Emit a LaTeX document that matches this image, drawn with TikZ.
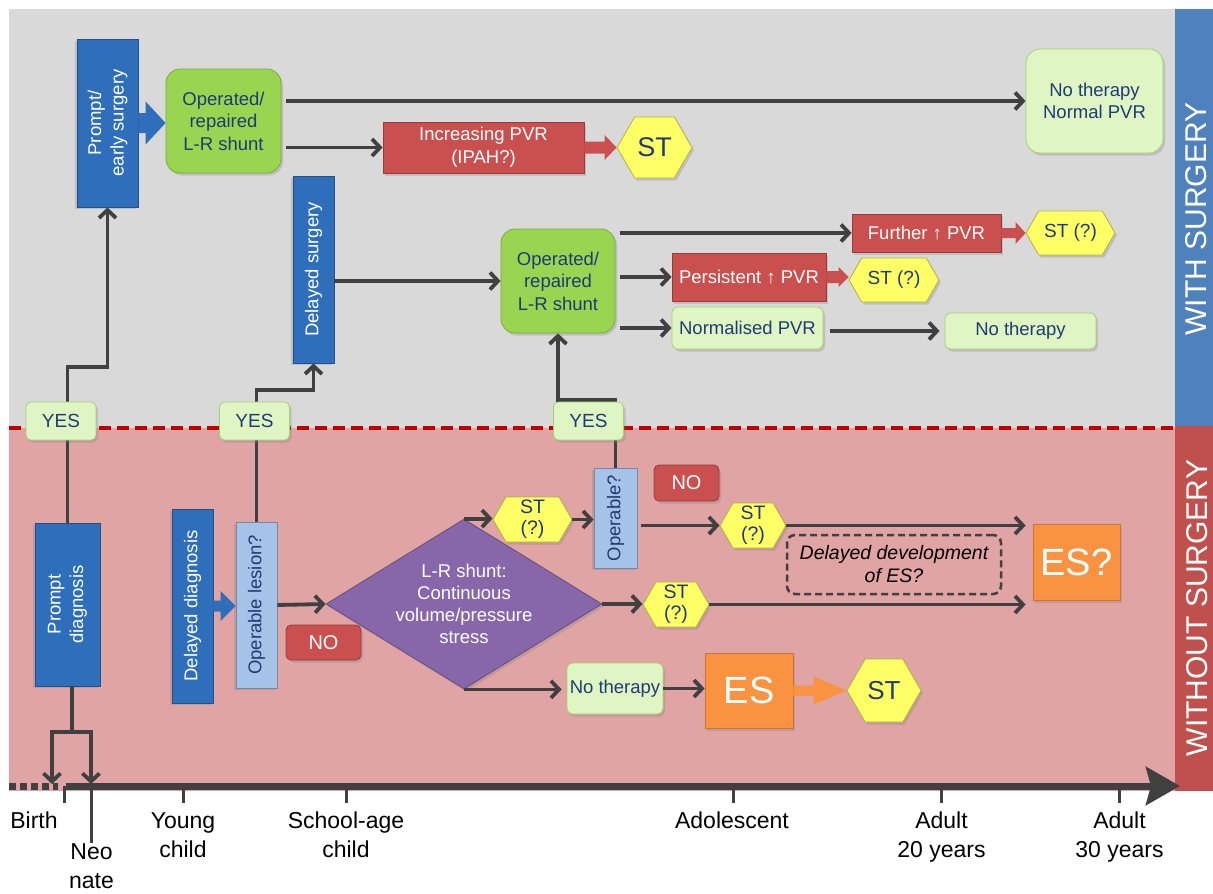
\documentclass[tikz,border=0pt]{standalone}
\usepackage{fontspec}
\setmainfont{Liberation Sans}
\usetikzlibrary{shapes.symbols,shapes.geometric,arrows.meta,calc,shadows}
\definecolor{cBoxBlue}{HTML}{2F6EBA}
\definecolor{cTxtBlue}{HTML}{1F3B73}
\definecolor{cOpGreen}{HTML}{9AD552}
\definecolor{cLtGreen}{HTML}{DFF5C3}
\definecolor{cLtGreenB}{HTML}{A2D46E}
\definecolor{cRedBox}{HTML}{C9504E}
\definecolor{cYellow}{HTML}{FFFF66}
\definecolor{cLtBlue}{HTML}{A5C3E8}
\definecolor{cPurple}{HTML}{8767AA}
\definecolor{cOrange}{HTML}{F99341}
\definecolor{cLine}{HTML}{404040}
\definecolor{cBgGray}{HTML}{D9D9D9}
\definecolor{cBgPink}{HTML}{DFA4A3}
\definecolor{cBandBlue}{HTML}{4F81BD}
\definecolor{cBandRed}{HTML}{C0504D}
\definecolor{cDashRed}{HTML}{C00000}
\newcommand\fsz[2]{\fontsize{#1}{#2}\selectfont}
% horizontal block arrow: #1 start, #2 tip (y taken from #1), #3 shaft half, #4 head half, #5 head length, #6 colour
\newcommand\blkarrow[6]{%
  \fill[#6] ($(#1)+(0,#3)$) -- ($(#2 |- #1)+(-#5,#3)$) -- ($(#2 |- #1)+(-#5,#4)$) -- (#2 |- #1)
    -- ($(#2 |- #1)+(-#5,-#4)$) -- ($(#2 |- #1)+(-#5,-#3)$) -- ($(#1)+(0,-#3)$) -- cycle;}
\tikzset{
  conn/.style={draw=cLine, line width=3.8pt, -{Straight Barb[length=8pt,width=17pt]}},
  plainline/.style={draw=cLine, line width=3.8pt},
  shad/.style={drop shadow={shadow xshift=2pt, shadow yshift=-2.5pt, opacity=.3}},
  rshad/.style={drop shadow={shadow xshift=-2.5pt, shadow yshift=-2pt, opacity=.3}},
  basebox/.style={inner sep=0pt, align=center, font=\fsz{18.5}{22.5}},
  bluebox/.style={basebox, rotate=90, rshad, fill=cBoxBlue, draw=cBoxBlue!75!black, line width=0.8pt, text=white},
  lbluebox/.style={basebox, rotate=90, rshad, fill=cLtBlue, draw=cLtBlue!70!black, line width=0.8pt, text=cTxtBlue},
  opbox/.style={basebox, shad, fill=cOpGreen, draw=cOpGreen!80!black, rounded corners=14pt, text=cTxtBlue, line width=0.8pt},
  ltbox/.style={basebox, shad, fill=cLtGreen, draw=cLtGreenB, rounded corners=6pt, text=cTxtBlue, line width=0.8pt},
  redrect/.style={basebox, shad, fill=cRedBox, draw=cRedBox!75!black, text=white, line width=0.8pt},
  hexa/.style={basebox, shad, signal, signal to=east and west, signal pointer angle=120, fill=cYellow, draw=cYellow!70!black, text=cTxtBlue, line width=0.8pt},
  orbox/.style={basebox, shad, fill=cOrange, draw=cOrange!80!black, text=white, line width=0.8pt, font=\fsz{38}{40}},
  yesbox/.style={ltbox, rounded corners=5pt, font=\fsz{19}{22}, minimum width=70pt, minimum height=38pt},
  nobox/.style={redrect, rounded corners=5pt, font=\fsz{20}{22}},
  axislbl/.style={align=center, anchor=base, font=\fsz{23}{29}, inner sep=0pt},
  bandlbl/.style={rotate=90, text=white, font=\fsz{30}{32}, inner sep=0pt},
  tick/.style={draw=cLine, line width=3pt},
}
\begin{document}
\begin{tikzpicture}[x=1pt,y=-1pt]
\useasboundingbox (0,0) rectangle (1213,894);
% backgrounds
\fill[cBgGray] (9,9) rectangle (1175,428);
\fill[cBgPink] (9,428) rectangle (1175,791);
\fill[cBandBlue] (1175,9) rectangle (1213,426);
\fill[cBandRed] (1175,426) rectangle (1213,791);
\node[bandlbl] (wlbl) at (1196,219) {WITH SURGERY};
\node[bandlbl] (wolbl) at (1197,608) {WITHOUT SURGERY};
\draw[cDashRed, line width=4pt, dash pattern=on 12pt off 6pt] (9,428) -- (1175,428);

% time axis
\draw[cLine, line width=7pt, dash pattern=on 7pt off 4pt] (9,786) -- (58,786);
\draw[cLine, line width=7pt, -{Stealth[length=34pt,width=38pt,inset=5pt]}] (66,786) -- (1180,786);
\foreach \tx in {64,183,346,733,941,1119} \draw[tick] (\tx,786) -- (\tx,803);
\draw[tick] (91,786) -- (91,843);
\node[axislbl] (lbirth) at (34,828) {Birth};
\node[axislbl] (lneo) at (91.5,888) {Neo\\nate};
\node[axislbl] (lyoung) at (183,857) {Young\\child};
\node[axislbl] (lschool) at (346,857) {School-age\\child};
\node[axislbl] (ladol) at (732,828) {Adolescent};
\node[axislbl] (ladult20) at (941.5,857) {Adult\\20 years};
\node[axislbl] (ladult30) at (1119.5,857) {Adult\\30 years};

% ---------- upper part (with surgery)
\node[bluebox, minimum width=168pt, minimum height=61pt] (pe) at (107.5,123) {Prompt/\\early surgery};
\node[opbox, minimum width=115pt, minimum height=104pt] (op1) at (223.5,121) {Operated/\\repaired\\L-R shunt};
\node[redrect, minimum width=201pt, minimum height=51pt, font=\fsz{18.5}{23}] (ipvr) at (483.5,147.5) {Increasing PVR\\(IPAH?)};
\node[hexa, minimum width=75pt, minimum height=61pt, font=\fsz{27}{29}] (st0) at (654.5,147.5) {ST};
\node[ltbox, rounded corners=14pt, minimum width=137pt, minimum height=104pt, font=\fsz{18.5}{22}] (nt1) at (1094.5,101) {No therapy\\Normal PVR};
\node[bluebox, minimum width=187pt, minimum height=41pt] (ds) at (313.5,269.5) {Delayed surgery};
\node[opbox, minimum width=114pt, minimum height=104pt] (op2) at (558,281) {Operated/\\repaired\\L-R shunt};
\node[redrect, minimum width=149pt, minimum height=38pt] (fpvr) at (926.5,233) {Further ↑ PVR};
\node[hexa, minimum width=89pt, minimum height=44pt, font=\fsz{19}{22}] (st2) at (1070.5,233) {ST (?)};
\node[redrect, minimum width=154pt, minimum height=48pt] (ppvr) at (749,277) {Persistent ↑ PVR};
\node[hexa, minimum width=90pt, minimum height=44pt, font=\fsz{19}{22}] (st3) at (894,280) {ST (?)};
\node[ltbox, minimum width=151pt, minimum height=42pt] (npvr) at (747.5,328) {Normalised PVR};
\node[ltbox, minimum width=151pt, minimum height=36pt] (nt2) at (1020.5,331) {No therapy};

% ---------- lower part (without surgery)
\node[bluebox, minimum width=163pt, minimum height=65pt] (pd) at (67.5,604.5) {Prompt\\diagnosis};
\node[bluebox, minimum width=194pt, minimum height=41pt] (dd) at (192.5,606) {Delayed diagnosis};
\node[lbluebox, minimum width=166pt, minimum height=41pt] (ol) at (256.5,605) {Operable lesion?};
\node[nobox, minimum width=75pt, minimum height=35pt] (no1) at (323.5,642.5) {NO};
\node[diamond, shad, fill=cPurple, draw=cPurple!75!black, line width=0.8pt, minimum width=276pt, minimum height=170pt, inner sep=0pt,
  label={[text=white, align=center, font=\fsz{18.5}{22}]center:{L-R shunt:\\Continuous\\volume/pressure\\stress}}] (dia) at (464,604) {};
\node[hexa, minimum width=79pt, minimum height=45pt, font=\fsz{19.5}{21}] (sl1) at (532.5,519.5) {ST\\(?)};
\node[lbluebox, minimum width=100pt, minimum height=43pt] (oq) at (615.5,518) {Operable?};
\node[nobox, minimum width=65pt, minimum height=36pt] (no2) at (686.5,483) {NO};
\node[hexa, minimum width=66pt, minimum height=45pt, font=\fsz{19.5}{21}] (sl3) at (753,525.5) {ST\\(?)};
\node[orbox, minimum width=87pt, minimum height=76pt] (esq) at (1076.5,562) {ES?};
\node[draw=cLine, line width=2.5pt, dash pattern=on 7pt off 4pt, rounded corners=8pt, minimum width=214pt, minimum height=59pt,
  inner sep=0pt, align=center, font=\fsz{19.5}{23}\itshape] (dly) at (894,564.5) {Delayed development\\of ES?};
\node[hexa, minimum width=66pt, minimum height=45pt, font=\fsz{19.5}{21}] (sl4) at (676,604.5) {ST\\(?)};
\node[ltbox, minimum width=96pt, minimum height=51pt] (nt3) at (615,688.5) {No therapy};
\node[orbox, minimum width=88pt, minimum height=75pt] (es) at (749,690.5) {ES};
\node[hexa, minimum width=74pt, minimum height=63pt, font=\fsz{26}{28}] (st5) at (884,690.5) {ST};

% ---------- block arrows
\blkarrow{pe.south}{op1.west}{10}{21.5}{20}{cBoxBlue}
\blkarrow{ipvr.east}{st0.west}{6}{12.5}{12}{cRedBox}
\blkarrow{fpvr.east}{st2.west}{5}{11}{10}{cRedBox}
\blkarrow{ppvr.east}{st3.west}{6}{10}{10}{cRedBox}
\blkarrow{dd.south}{ol.north}{5.5}{15}{15}{cBoxBlue}
\blkarrow{es.east}{st5.west}{5}{14}{33}{cOrange}

% ---------- connectors, upper
\draw[conn, shorten <=5pt] (op1.east |- nt1) -- (nt1.west);
\draw[conn, shorten <=5pt] (op1.east |- ipvr) -- (ipvr.west);
\draw[conn] (ds.south |- op2) -- (op2.west);
\draw[conn, shorten <=5pt] (op2.east |- fpvr) -- (fpvr.west);
\draw[conn, shorten <=5pt] (op2.east |- ppvr) -- (ppvr.west);
\draw[conn, shorten <=5pt] (op2.east |- npvr) -- (npvr.west);
\draw[conn, shorten <=7pt, shorten >=5pt] (npvr.east |- nt2) -- (nt2.west);

% ---------- connectors, across the border
\draw[conn] (pd.east) -- (pd.east |- 0,367) -- (pe.west |- 0,367) -- (pe.west);
\draw[conn] (ol.east) -- (ol.east |- 0,390) -- (ds.west |- 0,390) -- (ds.west);
\draw[conn] (oq.east) -- (oq.east |- 0,400) -- (op2.south |- 0,400) -- (op2.south);
\node[yesbox] (yes1) at (61,421) {YES};
\node[yesbox] (yes2) at (254.5,421) {YES};
\node[yesbox] (yes3) at (588.5,421) {YES};

% ---------- connectors, lower
\draw[conn] (ol.south) -- (dia.west);
\draw[conn] (dia.north) -- (dia.north -| sl1.west);
\draw[conn] (sl1.east) -- (sl1.east -| oq.north);
\draw[conn, shorten <=4pt] (oq.south |- sl3) -- (sl3.west);
\draw[conn, shorten >=7pt] (sl3.east) -- (sl3.east -| esq.west);
\draw[conn] (dia.east) -- (dia.east -| sl4.west);
\draw[conn, shorten >=7pt] (sl4.east) -- (sl4.east -| esq.west);
\draw[conn, shorten >=5pt] (dia.south) -- (dia.south -| nt3.west);
\draw[conn] (nt3.east) -- (nt3.east -| es.west);

% prompt diagnosis to birth / neonate
\coordinate (pdb) at ($(pd.west)+(4.5,0)$);
\coordinate (brL) at (52,732);
\coordinate (brR) at (91,732);
\draw[plainline] (pdb) -- (pdb |- brL);
\draw[plainline] ([xshift=-1.9pt]brL) -- ([xshift=1.9pt]brR);
\draw[conn] (brL) -- (52,784);
\draw[conn] (brR) -- (91,784);
\end{tikzpicture}
\end{document}
